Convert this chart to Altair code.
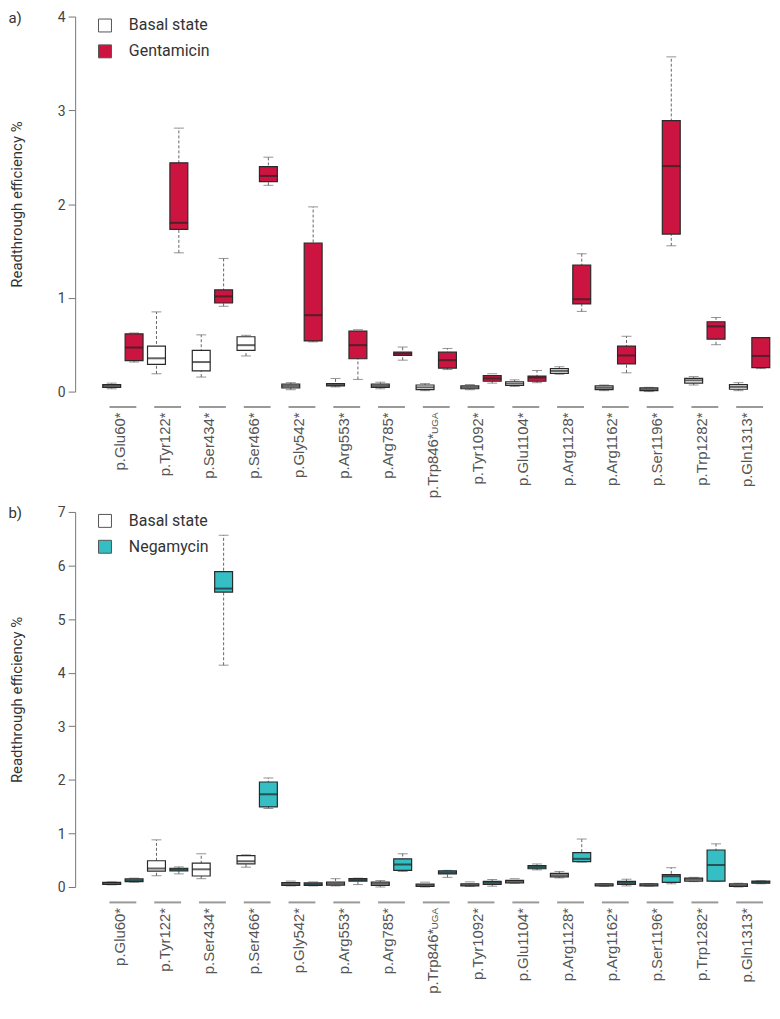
import altair as alt
import pandas as pd

# ---------------- data ----------------
categories = ["p.Glu60*", "p.Tyr122*", "p.Ser434*", "p.Ser466*", "p.Gly542*",
              "p.Arg553*", "p.Arg785*", "p.Trp846*UGA", "p.Tyr1092*", "p.Glu1104*",
              "p.Arg1128*", "p.Arg1162*", "p.Ser1196*", "p.Trp1282*", "p.Gln1313*"]
label_main = ["p.Glu60*", "p.Tyr122*", "p.Ser434*", "p.Ser466*", "p.Gly542*",
              "p.Arg553*", "p.Arg785*", "p.Trp846*", "p.Tyr1092*", "p.Glu1104*",
              "p.Arg1128*", "p.Arg1162*", "p.Ser1196*", "p.Trp1282*", "p.Gln1313*"]
label_suffix = ["", "", "", "", "", "", "", "UGA", "", "", "", "", "", "", ""]

BASAL = "Basal state"

# panel a: basal state
a_basal_min = [0.03, 0.19, 0.155, 0.38, 0.02, 0.05, 0.03, 0.01, 0.02, 0.055, 0.185, 0.01, 0.0, 0.07, 0.01]
a_basal_q1 = [0.045, 0.29, 0.22, 0.44, 0.04, 0.06, 0.045, 0.02, 0.03, 0.065, 0.195, 0.02, 0.01, 0.09, 0.025]
a_basal_med = [0.06, 0.355, 0.315, 0.495, 0.06, 0.07, 0.06, 0.045, 0.045, 0.085, 0.22, 0.04, 0.025, 0.12, 0.05]
a_basal_q3 = [0.075, 0.485, 0.44, 0.585, 0.08, 0.085, 0.08, 0.07, 0.06, 0.105, 0.245, 0.06, 0.04, 0.14, 0.075]
a_basal_max = [0.09, 0.85, 0.605, 0.60, 0.095, 0.14, 0.10, 0.085, 0.075, 0.125, 0.265, 0.07, 0.045, 0.16, 0.095]

# panel a: gentamicin
a_gent_min = [0.315, 1.48, 0.91, 2.20, 0.53, 0.13, 0.335, 0.235, 0.09, 0.095, 0.855, 0.20, 1.555, 0.50, 0.245]
a_gent_q1 = [0.33, 1.73, 0.945, 2.24, 0.54, 0.35, 0.385, 0.25, 0.11, 0.11, 0.935, 0.295, 1.68, 0.56, 0.255]
a_gent_med = [0.47, 1.80, 1.015, 2.30, 0.815, 0.495, 0.405, 0.335, 0.14, 0.15, 0.985, 0.385, 2.405, 0.695, 0.38]
a_gent_q3 = [0.615, 2.44, 1.085, 2.40, 1.585, 0.645, 0.42, 0.42, 0.17, 0.165, 1.35, 0.485, 2.89, 0.745, 0.575]
a_gent_max = [0.625, 2.81, 1.42, 2.50, 1.97, 0.66, 0.475, 0.46, 0.19, 0.225, 1.47, 0.59, 3.57, 0.79, 0.575]

# panel b: basal state
b_basal_min = [0.04, 0.21, 0.155, 0.37, 0.02, 0.02, 0.0, 0.0, 0.01, 0.07, 0.17, 0.01, 0.015, 0.10, 0.0]
b_basal_q1 = [0.05, 0.295, 0.205, 0.43, 0.03, 0.035, 0.03, 0.01, 0.02, 0.075, 0.19, 0.02, 0.02, 0.11, 0.01]
b_basal_med = [0.065, 0.345, 0.33, 0.48, 0.055, 0.06, 0.06, 0.03, 0.04, 0.10, 0.22, 0.04, 0.04, 0.14, 0.035]
b_basal_q3 = [0.085, 0.49, 0.445, 0.585, 0.08, 0.09, 0.09, 0.055, 0.06, 0.125, 0.255, 0.06, 0.06, 0.165, 0.06]
b_basal_max = [0.095, 0.88, 0.62, 0.60, 0.11, 0.155, 0.12, 0.09, 0.095, 0.155, 0.29, 0.065, 0.065, 0.18, 0.07]

# panel b: negamycin
b_neg_min = [0.09, 0.245, 4.14, 1.465, 0.02, 0.045, 0.29, 0.18, 0.015, 0.32, 0.465, 0.02, 0.06, 0.105, 0.06]
b_neg_q1 = [0.10, 0.30, 5.505, 1.495, 0.03, 0.11, 0.31, 0.245, 0.05, 0.34, 0.475, 0.05, 0.085, 0.11, 0.07]
b_neg_med = [0.12, 0.33, 5.57, 1.73, 0.05, 0.13, 0.42, 0.27, 0.08, 0.37, 0.525, 0.08, 0.20, 0.41, 0.09]
b_neg_q3 = [0.15, 0.35, 5.885, 1.96, 0.075, 0.155, 0.525, 0.30, 0.105, 0.40, 0.64, 0.105, 0.23, 0.69, 0.11]
b_neg_max = [0.165, 0.375, 6.565, 2.035, 0.095, 0.165, 0.62, 0.31, 0.14, 0.43, 0.895, 0.145, 0.36, 0.805, 0.115]

RED = "#CC1440"
TEAL = "#35BEC3"
H = 377
STEP = 45.0
W = STEP * len(categories)


def stats_frame(group, mn, q1, med, q3, mx):
    return pd.DataFrame({"category": categories, "group": group, "lo": mn,
                         "q1": q1, "med": med, "q3": q3, "hi": mx})


labels_df = pd.DataFrame({"category": categories, "main": label_main, "suffix": label_suffix})


def panel(df, treat, color, ymax, tag):
    xenc = alt.X("category:N", sort=categories, axis=None,
                 scale=alt.Scale(paddingInner=0, paddingOuter=0))
    xoff = alt.XOffset("group:N", sort=[BASAL, treat],
                       scale=alt.Scale(paddingInner=0, paddingOuter=0))
    yscale = alt.Scale(domain=[0, ymax], nice=False, zero=True)
    yaxis = alt.Axis(values=list(range(0, ymax + 1)), format="d", grid=False, offset=25.5,
                     domainColor="#777", tickColor="#777", tickSize=7,
                     labelFont="Roboto", labelFontSize=14, labelColor="#444", labelPadding=3,
                     labelBaseline="top", labelOffset=-6,
                     title="Readthrough efficiency %", titleFont="Roboto", titleFontSize=15,
                     titleFontWeight="normal", titleColor="#333", titlePadding=33)
    base = alt.Chart(df).encode(x=xenc, xOffset=xoff)

    whisker = base.mark_rule(color="#666", strokeDash=[3, 2], strokeWidth=1).encode(
        y=alt.Y("lo:Q", scale=yscale, axis=yaxis), y2="hi:Q")
    cap_hi = base.mark_tick(orient="horizontal", size=10, thickness=1, color="#666").encode(
        y=alt.Y("hi:Q", scale=yscale))
    cap_lo = base.mark_tick(orient="horizontal", size=10, thickness=1, color="#666").encode(
        y=alt.Y("lo:Q", scale=yscale))
    box = base.mark_bar(size=18, stroke="#2a2a2a", strokeWidth=1.2).encode(
        y=alt.Y("q1:Q", scale=yscale), y2="q3:Q",
        color=alt.Color("group:N", scale=alt.Scale(domain=[BASAL, treat], range=["#ffffff", color]),
                        legend=alt.Legend(title=None, orient="none", legendX=-3.5, legendY=1,
                                          symbolType="square", symbolSize=169,
                                          symbolStrokeColor="#555", symbolStrokeWidth=1,
                                          labelFont="Roboto", labelFontSize=16, labelColor="#333",
                                          labelOffset=16, rowPadding=8, padding=0)))
    median = base.mark_tick(orient="horizontal", size=18, thickness=2, color="#222").encode(
        y=alt.Y("med:Q", scale=yscale))

    lab = alt.Chart(labels_df)
    seg = lab.mark_bar(size=27, color="#9a9a9a").encode(
        x=xenc, y=alt.value(H + 14.5), y2=alt.value(H + 16.5))
    txt_plain = lab.transform_filter(alt.datum.suffix == "").mark_text(
        angle=270, align="right", baseline="middle", font="Liberation Sans", fontSize=15,
        color="#555", dy=-3).encode(x=xenc, y=alt.value(H + 21), text="main:N")
    txt_main = lab.transform_filter(alt.datum.suffix != "").mark_text(
        angle=270, align="right", baseline="middle", font="Liberation Sans", fontSize=15,
        color="#555", dy=-3, dx=-21).encode(x=xenc, y=alt.value(H + 21), text="main:N")
    txt_suf = lab.transform_filter(alt.datum.suffix != "").mark_text(
        angle=270, align="right", baseline="middle", font="Liberation Sans", fontSize=10,
        color="#555", dy=-1).encode(x=xenc, y=alt.value(H + 21), text="suffix:N")

    tag_txt = alt.Chart(pd.DataFrame({"t": [tag]})).mark_text(
        align="left", baseline="middle", font="Roboto", fontSize=15, color="#333").encode(
        x=alt.value(-92.5), y=alt.value(1), text="t:N")

    return alt.layer(whisker, cap_hi, cap_lo, box, median, seg, txt_plain, txt_main, txt_suf,
                     tag_txt).properties(width=W, height=H)


df_a = pd.concat([stats_frame(BASAL, a_basal_min, a_basal_q1, a_basal_med, a_basal_q3, a_basal_max),
                  stats_frame("Gentamicin", a_gent_min, a_gent_q1, a_gent_med, a_gent_q3, a_gent_max)],
                 ignore_index=True)
df_b = pd.concat([stats_frame(BASAL, b_basal_min, b_basal_q1, b_basal_med, b_basal_q3, b_basal_max),
                  stats_frame("Negamycin", b_neg_min, b_neg_q1, b_neg_med, b_neg_q3, b_neg_max)],
                 ignore_index=True)

pa = panel(df_a, "Gentamicin", RED, 4, "a)")
pb = panel(df_b, "Negamycin", TEAL, 7, "b)")

chart = alt.vconcat(pa, pb, spacing=121, bounds="flush").resolve_scale(
    color="independent", xOffset="independent").properties(
    padding={"left": 0, "right": 0, "top": 0, "bottom": 0}).configure_view(stroke=None)

chart.save("out.html", embed_options={"renderer": "svg", "actions": False})
